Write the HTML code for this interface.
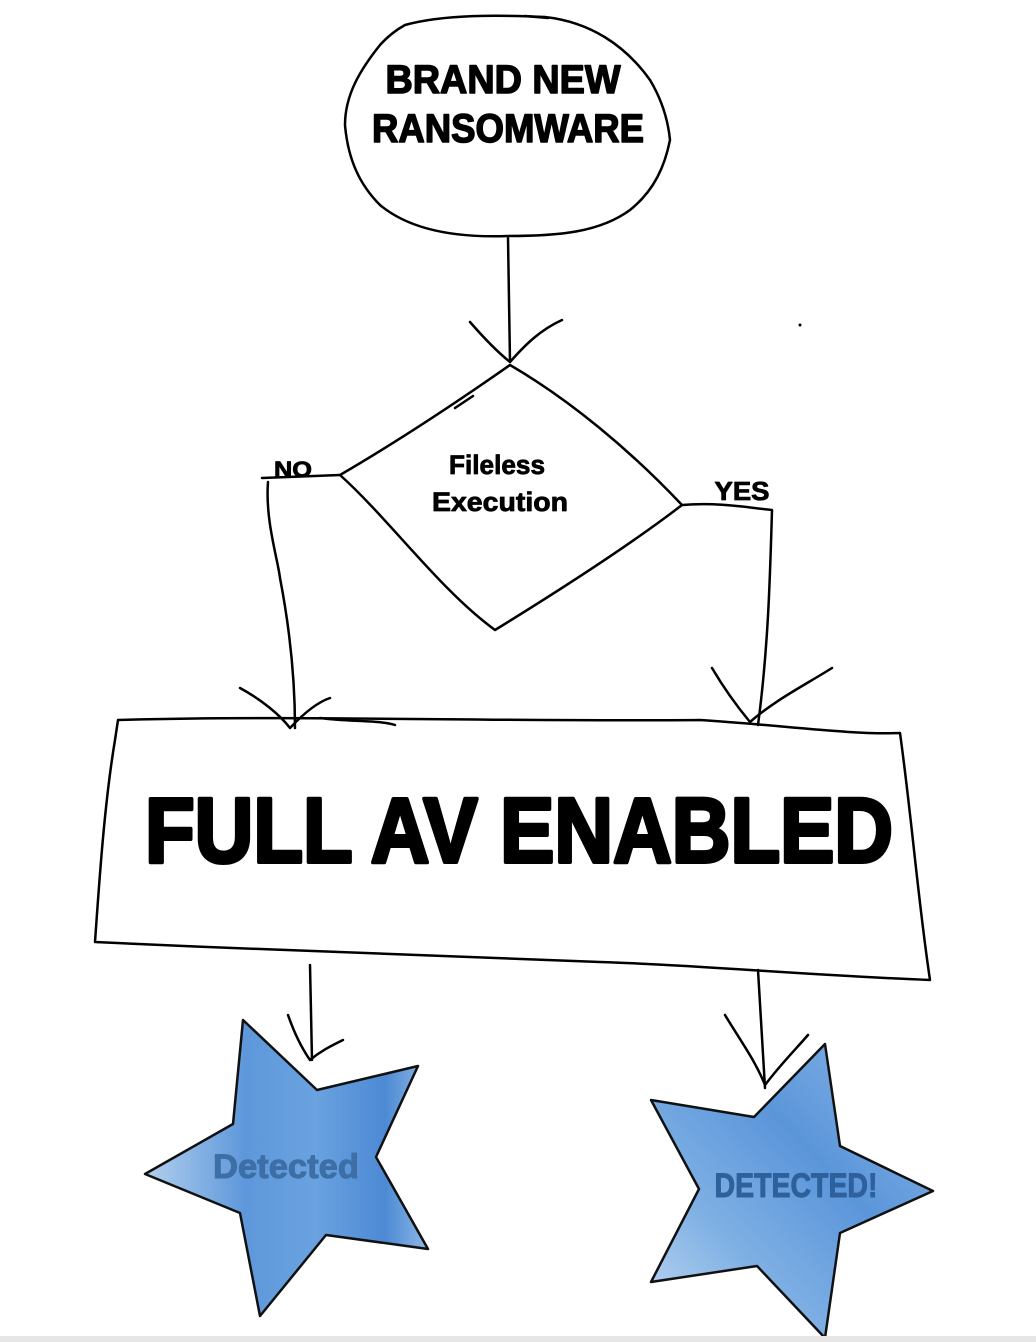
<!DOCTYPE html>
<html><head><meta charset="utf-8"><style>
html,body{margin:0;padding:0;background:#fff;}
svg{display:block;}
text{font-family:"Liberation Sans",sans-serif;font-weight:bold;}
</style></head><body>
<svg width="1036" height="1342" viewBox="0 0 1036 1342" xmlns="http://www.w3.org/2000/svg">
<defs>
<linearGradient id="g1" x1="0" y1="0" x2="1" y2="0">
<stop offset="0" stop-color="#b3d0ee"/><stop offset="0.35" stop-color="#5e98da"/><stop offset="0.6" stop-color="#6aa2e0"/><stop offset="0.85" stop-color="#4d8ad4"/><stop offset="1" stop-color="#8fb8e6"/>
</linearGradient>
<linearGradient id="g2" x1="0" y1="1" x2="1" y2="0">
<stop offset="0" stop-color="#c3daf2"/><stop offset="0.3" stop-color="#7fb0e4"/><stop offset="0.6" stop-color="#5b96da"/><stop offset="1" stop-color="#8db7e7"/>
</linearGradient>
</defs>
<g fill="none" stroke="#000" stroke-width="2.5" stroke-linecap="round" stroke-linejoin="round">
<path d="M405,25 C445,14 500,15 545,17 C590,22 625,45 650,80 C662,100 668,120 670,140 C665,165 655,190 630,210 C600,232 560,236 508,236 C455,238 410,230 380,205 C360,185 348,160 345,125 C345,95 360,70 380,45 C388,36 396,30 405,25 Z"/>
<path d="M525,16 L548,18"/>
<path d="M508,238 L510,362"/>
<path d="M470,322 C490,345 505,358 510,362 C525,345 540,330 562,320"/>
<path d="M510,365 C460,400 400,440 340,475 C390,520 440,590 495,630 C560,590 630,545 682,505 C630,450 570,400 510,365 Z"/>
<path d="M455,408 L473,396"/>
<path d="M340,475 L262,478"/>
<path d="M268,482 C265,520 278,560 280,578 C290,630 295,680 295,728"/>
<path d="M240,688 C262,700 280,715 290,728 C305,712 318,702 330,698"/>
<path d="M682,505 C720,502 750,508 772,510 C770,580 768,650 758,725"/>
<path d="M712,668 C725,690 740,710 750,722 C775,700 805,685 832,668"/>
<path d="M118,720 C300,715 500,722 700,720 C780,725 850,735 900,733 C912,820 918,900 930,980 C800,975 700,965 600,962 C420,955 260,950 95,942 C100,870 105,800 115,740 Z"/>
<path d="M320,718 C350,722 380,720 395,725"/>
<path d="M310,965 L312,1060"/>
<path d="M288,1015 C295,1035 303,1050 310,1060 C322,1050 333,1045 343,1040"/>
<path d="M758,970 L765,1088"/>
<path d="M725,1015 C740,1040 755,1060 765,1085 C780,1065 795,1050 808,1035"/>
</g>
<circle cx="800" cy="325" r="1.5" fill="#000"/>
<polygon points="243,1020 317,1090 418,1066 376,1157 428,1249 326,1235 260,1316 240,1213 145,1174 233,1124" fill="url(#g1)" stroke="#111" stroke-width="2.5" stroke-linejoin="round"/>
<polygon points="825,1044 754,1117 651,1100 699,1189 651,1282 757,1266 825,1338 840,1233 933,1191 840,1146" fill="url(#g2)" stroke="#111" stroke-width="2.5" stroke-linejoin="round"/>
<g stroke-linejoin="round">
<text x="503" y="93" font-size="40" text-anchor="middle" textLength="235" lengthAdjust="spacingAndGlyphs" stroke="#000" stroke-width="1.5">BRAND NEW</text>
<text x="508" y="142" font-size="40" text-anchor="middle" textLength="272" lengthAdjust="spacingAndGlyphs" stroke="#000" stroke-width="1.5">RANSOMWARE</text>
<text x="497" y="474" font-size="27" text-anchor="middle" textLength="96" lengthAdjust="spacingAndGlyphs" stroke="#000" stroke-width="0.8">Fileless</text>
<text x="500" y="511" font-size="27" text-anchor="middle" textLength="136" lengthAdjust="spacingAndGlyphs" stroke="#000" stroke-width="0.8">Execution</text>
<text x="293" y="477" font-size="22" text-anchor="middle" textLength="38" lengthAdjust="spacingAndGlyphs" stroke="#000" stroke-width="0.8">NO</text>
<text x="742" y="500" font-size="26" text-anchor="middle" textLength="55" lengthAdjust="spacingAndGlyphs" stroke="#000" stroke-width="0.8">YES</text>
<text x="519" y="862" font-size="92" text-anchor="middle" textLength="748" lengthAdjust="spacingAndGlyphs" stroke="#000" stroke-width="4">FULL AV ENABLED</text>
<text x="286" y="1178" font-size="34" fill="#3d6fa6" text-anchor="middle" textLength="146" lengthAdjust="spacingAndGlyphs" stroke="#3d6fa6" stroke-width="1">Detected</text>
<text x="796" y="1197" font-size="34" fill="#2e609c" text-anchor="middle" textLength="163" lengthAdjust="spacingAndGlyphs" stroke="#2e609c" stroke-width="1">DETECTED!</text>
</g>
<rect x="0" y="1336" width="1036" height="6" fill="#e6e6e6"/>
</svg>
</body></html>
